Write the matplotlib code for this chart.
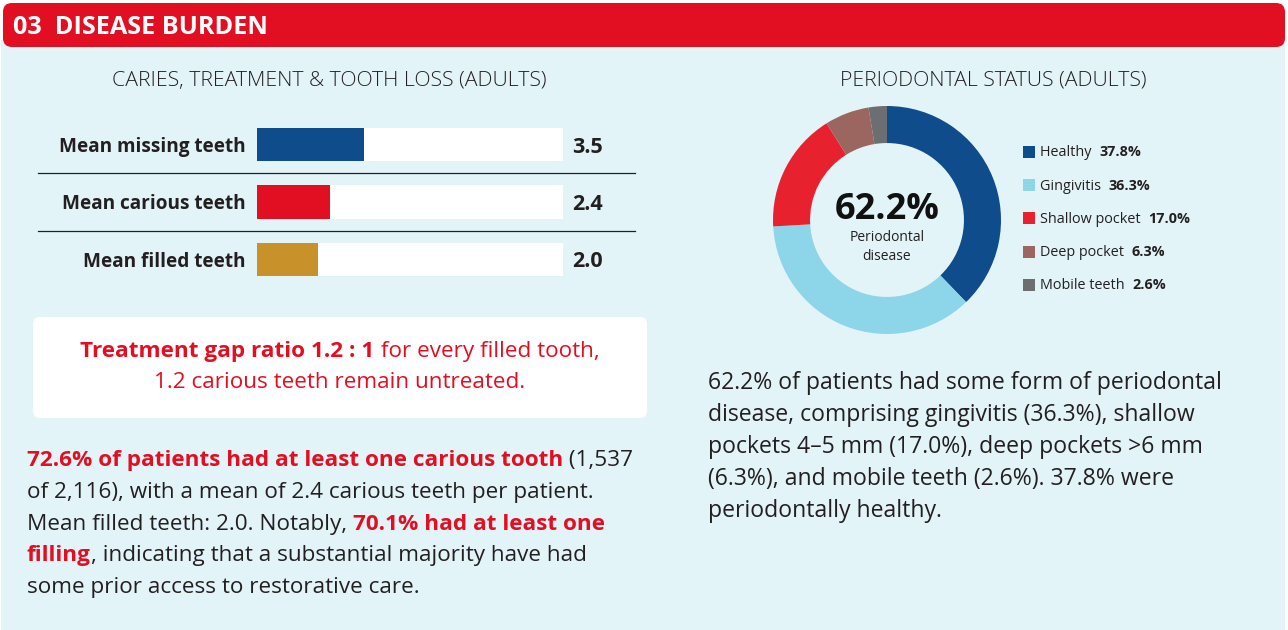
import matplotlib
matplotlib.use("Agg")
import matplotlib.pyplot as plt
from matplotlib.patches import FancyBboxPatch, Rectangle

W, H = 1288, 630
FONT = ["Open Sans", "DejaVu Sans"]
RED = "#E20E21"
DARK = "#231F20"
BG = "#E3F4F9"

# caries bars
bar_labels = ["Mean missing teeth", "Mean carious teeth", "Mean filled teeth"]
bar_values = [3.5, 2.4, 2.0]
bar_colors = ["#0F4C8C", "#E20E21", "#C9912A"]
bar_max = 10

# periodontal donut
peri_labels = ["Healthy", "Gingivitis", "Shallow pocket", "Deep pocket", "Mobile teeth"]
peri_values = [37.8, 36.3, 17.0, 6.3, 2.6]
peri_colors = ["#0F4C8C", "#8DD5E8", "#E8212F", "#9B6560", "#6D6E71"]
disease_total = 62.2

plt.rcParams["font.family"] = FONT
fig = plt.figure(figsize=(W / 100, H / 100), dpi=100)
fig.patch.set_facecolor("white")

bg = fig.add_axes([0, 0, 1, 1])
bg.set_xlim(0, W)
bg.set_ylim(H, 0)
bg.axis("off")
bg.set_zorder(-1)

bg.add_patch(Rectangle((1, 40), W - 4, H - 40, color=BG, lw=0))
bg.add_patch(FancyBboxPatch((3, 3), W - 6, 44, boxstyle="round,pad=0,rounding_size=9",
                            fc=RED, ec="none"))
bg.text(13, 27, "03  DISEASE BURDEN", color="white", fontsize=18.2, weight="bold",
        va="center", ha="left")

renderer = fig.canvas.get_renderer()


def draw_runs(x, y, runs, size, ha="left"):
    # place consecutive text pieces (text, weight, color) on one baseline
    texts = []
    for s, wt, col in runs:
        t = bg.text(0, y, s, fontsize=size, weight=wt, color=col, va="baseline", ha="left")
        texts.append(t)
    widths = [t.get_window_extent(renderer).width for t in texts]
    total = sum(widths)
    cx = x - total / 2 if ha == "center" else x
    for t, w in zip(texts, widths):
        t.set_x(cx)
        cx += w


# ---- left: bars ----
bg.text(329, 81, "CARIES, TREATMENT & TOOTH LOSS (ADULTS)", fontsize=15.3, color=DARK,
        ha="center", va="center", weight="light")

row_top, row_h = 116, 57.3
ax = fig.add_axes([257 / W, 1 - (row_top + 3 * row_h) / H, 306 / W, 3 * row_h / H])
ax.set_xlim(0, bar_max)
ax.set_ylim(2.5, -0.5)
ax.axis("off")
ypos = list(range(len(bar_values)))
ax.barh(ypos, [bar_max] * len(ypos), height=0.58, color="white", lw=0)
ax.barh(ypos, bar_values, height=0.58, color=bar_colors, lw=0)
for i, (lab, v) in enumerate(zip(bar_labels, bar_values)):
    ax.text(-0.36, i, lab, ha="right", va="center_baseline", fontsize=13.7, weight="bold",
            color=DARK)
    ax.text(10.3, i, f"{v:.1f}", ha="left", va="center_baseline", fontsize=15.5,
            weight="bold", color=DARK)
for yl in [0.5, 1.5]:
    ax.plot([-7.16, 12.36], [yl, yl], color=DARK, lw=0.9, clip_on=False)

# treatment gap box
bg.add_patch(FancyBboxPatch((33, 317), 614, 101, boxstyle="round,pad=0,rounding_size=7",
                            fc="white", ec="none"))
draw_runs(340, 357, [("Treatment gap ratio 1.2 : 1", "bold", RED),
                     (" for every filled tooth,", "normal", RED)], 16.2, ha="center")
draw_runs(340, 388, [("1.2 carious teeth remain untreated.", "normal", RED)], 16.2,
          ha="center")

left_lines = [
    [("72.6% of patients had at least one carious tooth", "bold", RED), (" (1,537", "normal", DARK)],
    [("of 2,116), with a mean of 2.4 carious teeth per patient.", "normal", DARK)],
    [("Mean filled teeth: 2.0. Notably, ", "normal", DARK), ("70.1% had at least one", "bold", RED)],
    [("filling", "bold", RED), (", indicating that a substantial majority have had", "normal", DARK)],
    [("some prior access to restorative care.", "normal", DARK)],
]
for k, runs in enumerate(left_lines):
    draw_runs(27, 466 + k * 31.8, runs, 16.2)

# ---- right: donut ----
bg.text(993, 81, "PERIODONTAL STATUS (ADULTS)", fontsize=15.3, color=DARK,
        ha="center", va="center", weight="light")
R = 114
dax = fig.add_axes([(887 - R) / W, 1 - (220 + R) / H, 2 * R / W, 2 * R / H])
dax.pie(peri_values, colors=peri_colors, startangle=90, counterclock=False,
        wedgeprops=dict(width=0.325, edgecolor="none"))
dax.set_xlim(-1, 1)
dax.set_ylim(-1, 1)
dax.set_aspect("equal")
dax.text(0, 0.09, f"{disease_total}%", ha="center", va="center", fontsize=26,
         weight="bold", color="#111111")
dax.text(0, -0.235, "Periodontal\ndisease", ha="center", va="center", fontsize=10,
         color=DARK, linespacing=1.35)

for k, (lab, v, col) in enumerate(zip(peri_labels, peri_values, peri_colors)):
    yy = 152 + k * 33.2
    bg.add_patch(Rectangle((1023, yy - 6), 12, 12, fc=col, ec="none"))
    draw_runs(1040, yy + 4.5, [(lab + "  ", "normal", DARK), (f"{v:.1f}%", "bold", DARK)], 10.4)

right_lines = [
    "62.2% of patients had some form of periodontal",
    "disease, comprising gingivitis (36.3%), shallow",
    "pockets 4\u20135 mm (17.0%), deep pockets >6 mm",
    "(6.3%), and mobile teeth (2.6%). 37.8% were",
    "periodontally healthy.",
]
for k, line in enumerate(right_lines):
    draw_runs(708, 389 + k * 32, [(line, "normal", DARK)], 16.6)

fig.savefig("out.png", dpi=100, facecolor=fig.get_facecolor())
